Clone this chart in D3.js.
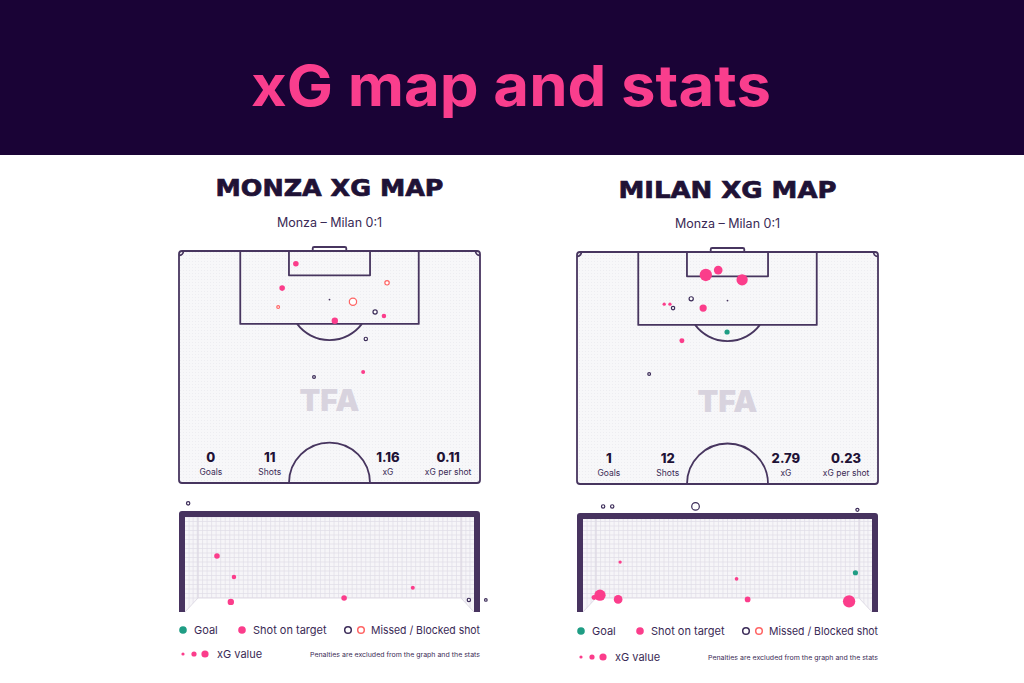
<!DOCTYPE html>
<html><head><meta charset="utf-8">
<script src="https://cdn.jsdelivr.net/npm/d3@7"></script>
<style>html,body{margin:0;padding:0;background:#fff;}svg{display:block;font-family:Inter,"Noto Sans",sans-serif;}</style>
</head><body>
<svg id="c" width="1024" height="683"></svg>
<script>
// ---------- DATA ----------
const teams = ["MONZA XG MAP", "MILAN XG MAP"];
const matchLabel = "Monza – Milan 0:1";
const statLabels = ["Goals", "Shots", "xG", "xG per shot"];
const monzaStats = ["0", "11", "1.16", "0.11"];
const milanStats = ["1", "12", "2.79", "0.23"];

// shots on pitch: x across pitch (m, 0-68), y distance from goal line (m)
const monzaShotX   = [26.4, 23.3, 47.0, 22.4, 39.3, 44.3, 46.3, 35.2, 42.2, 41.6, 30.5];
const monzaShotY   = [2.9, 8.4, 7.2, 12.7, 11.5, 13.8, 14.7, 15.8, 19.9, 27.4, 28.5];
const monzaShotXG  = [0.11, 0.11, 0.11, 0.04, 0.33, 0.10, 0.06, 0.16, 0.06, 0.04, 0.04];
const monzaShotType= ["on","on","blocked","blocked","blocked","missed","on","on","missed","on","missed"];

const milanShotX   = [29.1, 31.9, 37.3, 19.7, 21.0, 25.8, 21.7, 28.5, 33.9, 23.7, 16.3, 29.1];
const milanShotY   = [5.2, 4.1, 6.3, 11.8, 11.8, 10.6, 12.7, 12.7, 18.1, 20.1, 27.6, 5.3];
const milanShotXG  = [0.80, 0.35, 0.65, 0.02, 0.02, 0.10, 0.06, 0.22, 0.09, 0.08, 0.04, 0.36];
const milanShotType= ["on","on","on","on","on","missed","missed","on","goal","on","missed","missed"];

// shots in goal mouth: x across goal (m, 0-7.32), height (m, 0-2.44)
const monzaGoalX   = [0.08, 0.81, 1.24, 1.16, 4.03, 5.77, 7.19, 7.62];
const monzaGoalY   = [2.79, 1.44, 0.90, 0.26, 0.36, 0.62, 0.31, 0.31];
const monzaGoalXG  = [0.06, 0.11, 0.06, 0.16, 0.11, 0.04, 0.06, 0.03];
const monzaGoalType= ["missed","on","on","on","on","on","missed","missed"];

const milanGoalX   = [0.51, 0.74, 2.85, 6.95, 0.94, 0.43, 0.28, 0.89, 3.89, 4.17, 6.74, 6.90];
const milanGoalY   = [2.77, 2.77, 2.77, 2.68, 1.31, 0.44, 0.38, 0.33, 0.87, 0.33, 0.28, 1.03];
const milanGoalXG  = [0.06, 0.06, 0.36, 0.05, 0.02, 0.65, 0.08, 0.35, 0.03, 0.12, 0.80, 0.09];
const milanGoalType= ["missed","missed","missed","missed","on","on","on","on","on","on","on","goal"];

// ---------- STYLE ----------
const C = {
  header:"#1a0336", pink:"#f93e8d", line:"#47355f", dark:"#1f1236", text:"#3a2a55",
  goal:"#1f9d84", on:"#fb3d8b", missed:"#3b2b58", blocked:"#ff6464", wm:"#d8d3de",
  pitch:"#f7f7f9", net:"#e0dde7"
};

const svg = d3.select("#c");
const defs = svg.append("defs");
const pat = defs.append("pattern").attr("id","dots").attr("width",3).attr("height",3).attr("patternUnits","userSpaceOnUse");
pat.append("rect").attr("width",3).attr("height",3).attr("fill",C.pitch);
pat.append("rect").attr("width",1).attr("height",1).attr("fill","#ededf1");

// header
svg.append("rect").attr("x",0).attr("y",0).attr("width",1024).attr("height",155).attr("fill",C.header);
svg.append("text").attr("x",511).attr("y",106).attr("text-anchor","middle")
  .attr("font-size",57).attr("font-weight",700).attr("fill",C.pink)
  .attr("textLength",520).attr("lengthAdjust","spacingAndGlyphs").text("xG map and stats");

const rScale = d3.scaleSqrt().domain([0,1]).range([0.8,6.8]);

const panels = [
  {x0:179, y0:251, titleY:196, subY:227, goalTop:511, legY:[630,654], name:teams[0], stats:monzaStats,
   sx:monzaShotX, sy:monzaShotY, sxg:monzaShotXG, st:monzaShotType,
   gx:monzaGoalX, gy:monzaGoalY, gxg:monzaGoalXG, gt:monzaGoalType},
  {x0:577, y0:252, titleY:198, subY:228, goalTop:513, legY:[631,657], name:teams[1], stats:milanStats,
   sx:milanShotX, sy:milanShotY, sxg:milanShotXG, st:milanShotType,
   gx:milanGoalX, gy:milanGoalY, gxg:milanGoalXG, gt:milanGoalType}
];

function drawShots(g, xs, ys, xgs, types, fx, fy) {
  const data = xs.map((d,i)=>({x:d, y:ys[i], xg:xgs[i], t:types[i]}));
  data.sort((a,b)=> (a.t==="missed"||a.t==="blocked" ? 0:1) - (b.t==="missed"||b.t==="blocked" ? 0:1));
  g.selectAll(null).data(data).enter().append("circle")
    .attr("cx",d=>fx(d.x)).attr("cy",d=>fy(d.y))
    .attr("r",d=> (d.t==="on"||d.t==="goal") ? rScale(d.xg) : Math.max(1.3, rScale(d.xg)-0.6))
    .attr("fill",d=> d.t==="on"?C.on : d.t==="goal"?C.goal : "#fff")
    .attr("stroke",d=> d.t==="missed"?C.missed : d.t==="blocked"?C.blocked : "none")
    .attr("stroke-width",1.2);
}

panels.forEach(p=>{
  const W = 301, H = 232;
  const x = d3.scaleLinear().domain([0,68]).range([p.x0, p.x0+W]);
  const y = d3.scaleLinear().domain([0,52.5]).range([p.y0, p.y0+H]);
  const cx = x(34);
  const g = svg.append("g");

  // titles
  g.append("text").attr("x",cx).attr("y",p.titleY).attr("text-anchor","middle")
    .attr("font-family","'DejaVu Sans',sans-serif").attr("font-weight",700).attr("font-size",23)
    .attr("fill",C.dark).attr("stroke",C.dark).attr("stroke-width",0.7)
    .attr("textLength", p.name.startsWith("MONZA")?228:218).attr("lengthAdjust","spacingAndGlyphs").text(p.name);
  g.append("text").attr("x",cx).attr("y",p.subY).attr("text-anchor","middle")
    .attr("font-size",12.5).attr("fill",C.text).text(matchLabel);

  // pitch background
  const ls = {stroke:C.line, "stroke-width":1.8, fill:"none"};
  const ap = (sel)=>{Object.entries(ls).forEach(([k,v])=>sel.attr(k,v)); return sel;};
  g.append("rect").attr("x",x(0)).attr("y",y(0)).attr("width",W).attr("height",H).attr("rx",3).attr("fill","url(#dots)");

  // watermark
  g.append("text").attr("x",cx).attr("y",y(36.1)).attr("text-anchor","middle").attr("font-size",30)
    .attr("font-weight",900).attr("fill",C.wm).attr("textLength",60).attr("lengthAdjust","spacingAndGlyphs").text("TFA");

  // goal in pitch
  ap(g.append("rect").attr("x",x(30.2)).attr("y",y(-0.9)).attr("width",x(37.8)-x(30.2)).attr("height",y(0)-y(-0.9)).attr("rx",1.5)).attr("fill","#fff");
  // outline
  g.append("rect").attr("x",x(0)).attr("y",y(0)).attr("width",W).attr("height",H).attr("rx",3)
    .attr("fill","none").attr("stroke",C.line).attr("stroke-width",1.8);
  // penalty box
  ap(g.append("path").attr("d",`M${x(13.84)},${y(0)}V${y(16.5)}H${x(54.16)}V${y(0)}`)).attr("stroke-linejoin","round");
  // six-yard box
  ap(g.append("path").attr("d",`M${x(24.84)},${y(0)}V${y(5.5)}H${x(43.16)}V${y(0)}`)).attr("stroke-linejoin","round");
  // penalty spot
  g.append("circle").attr("cx",cx).attr("cy",y(11)).attr("r",0.9).attr("fill",C.line);
  // penalty arc
  const rr = x(9.15)-x(0);
  const dy = y(16.5)-y(11);
  const half = Math.sqrt(rr*rr-dy*dy);
  ap(g.append("path").attr("d",`M${cx-half},${y(16.5)}A${rr},${rr} 0 0 0 ${cx+half},${y(16.5)}`));
  // centre circle (half)
  ap(g.append("path").attr("d",`M${cx-rr},${y(52.5)}A${rr},${rr} 0 0 1 ${cx+rr},${y(52.5)}`));
  // corner arcs
  const cr = x(1)-x(0);
  ap(g.append("path").attr("d",`M${x(0)},${y(0)+cr}A${cr},${cr} 0 0 0 ${x(0)+cr},${y(0)}`));
  ap(g.append("path").attr("d",`M${x(68)-cr},${y(0)}A${cr},${cr} 0 0 0 ${x(68)},${y(0)+cr}`));

  // stats
  const statX = [7.2, 20.5, 47.2, 60.8];
  statX.forEach((sx,i)=>{
    g.append("text").attr("x",x(sx)).attr("y",y(47.75)).attr("text-anchor","middle")
      .attr("font-size",13).attr("font-weight",800).attr("fill",C.dark).text(p.stats[i]);
    g.append("text").attr("x",x(sx)).attr("y",y(50.7)).attr("text-anchor","middle")
      .attr("font-size",8.5).attr("fill",C.text).text(statLabels[i]);
  });

  drawShots(g, p.sx, p.sy, p.sxg, p.st, x, y);

  // ---------- goal view ----------
  const gBottom = 612;
  const gxS = d3.scaleLinear().domain([0,7.32]).range([p.x0+6, p.x0+W-6]);
  const gyS = d3.scaleLinear().domain([0,2.44]).range([gBottom, p.goalTop+6]);
  const gg = svg.append("g");
  const inL = gxS(0), inR = gxS(7.32), inT = gyS(2.44);
  const backL = inL+13, backR = inR-13, backB = gBottom-14;
  const clipId = "netclip"+p.x0;
  defs.append("clipPath").attr("id",clipId).append("path")
    .attr("d",`M${inL},${inT}H${inR}V${gBottom}L${backR},${backB}H${backL}L${inL},${gBottom}Z`);
  const net = gg.append("g").attr("clip-path",`url(#${clipId})`);
  net.append("rect").attr("x",inL).attr("y",inT).attr("width",inR-inL).attr("height",gBottom-inT).attr("fill","#f6f5f8");
  for (let vx = backL; vx <= backR+0.1; vx += (backR-backL)/58) {
    net.append("line").attr("x1",vx).attr("x2",vx).attr("y1",inT).attr("y2",backB).attr("stroke",C.net).attr("stroke-width",0.7);
  }
  for (let hy = backB; hy >= inT; hy -= 4.5) {
    net.append("line").attr("x1",inL).attr("x2",inR).attr("y1",hy).attr("y2",hy).attr("stroke",C.net).attr("stroke-width",0.7);
  }
  for (let k=1;k<=3;k++){
    const fx1 = inL + (backL-inL)*k/3.2, fx2 = inR - (inR-backR)*k/3.2;
    net.append("line").attr("x1",fx1).attr("x2",fx1).attr("y1",inT).attr("y2",gBottom).attr("stroke",C.net).attr("stroke-width",0.7);
    net.append("line").attr("x1",fx2).attr("x2",fx2).attr("y1",inT).attr("y2",gBottom).attr("stroke",C.net).attr("stroke-width",0.7);
  }
  gg.append("path").attr("d",`M${inL},${gBottom}L${backL},${backB}H${backR}L${inR},${gBottom}`)
    .attr("fill","none").attr("stroke","#dcd8e3").attr("stroke-width",0.9);
  gg.append("line").attr("x1",backL).attr("x2",backL).attr("y1",inT).attr("y2",backB).attr("stroke","#dcd8e3").attr("stroke-width",0.9);
  gg.append("line").attr("x1",backR).attr("x2",backR).attr("y1",inT).attr("y2",backB).attr("stroke","#dcd8e3").attr("stroke-width",0.9);
  // frame
  gg.append("path").attr("d",`M${p.x0+3},${gBottom}V${p.goalTop+3}H${p.x0+W-3}V${gBottom}`)
    .attr("fill","none").attr("stroke","#47335f").attr("stroke-width",6).attr("stroke-linejoin","round");

  drawShots(gg, p.gx, p.gy, p.gxg, p.gt, gxS, gyS);

  // ---------- legend ----------
  const lg = svg.append("g");
  const r1 = p.legY[0], r2 = p.legY[1], lx = p.x0;
  lg.append("circle").attr("cx",lx+4).attr("cy",r1).attr("r",3.8).attr("fill",C.goal);
  lg.append("text").attr("x",lx+15).attr("y",r1+3.8).attr("font-size",11).attr("fill",C.text).text("Goal");
  lg.append("circle").attr("cx",lx+63).attr("cy",r1).attr("r",3.8).attr("fill",C.on);
  lg.append("text").attr("x",lx+74).attr("y",r1+3.8).attr("font-size",11).attr("fill",C.text).text("Shot on target");
  lg.append("circle").attr("cx",lx+169).attr("cy",r1).attr("r",3.3).attr("fill","#fff").attr("stroke",C.missed).attr("stroke-width",1.5);
  lg.append("circle").attr("cx",lx+182).attr("cy",r1).attr("r",3.3).attr("fill","#fff").attr("stroke",C.blocked).attr("stroke-width",1.5);
  lg.append("text").attr("x",lx+192).attr("y",r1+3.8).attr("font-size",11).attr("fill",C.text)
    .attr("textLength",109).attr("lengthAdjust","spacingAndGlyphs").text("Missed / Blocked shot");
  [1.6,2.6,3.6].forEach((rv,i)=>{
    lg.append("circle").attr("cx",lx+4+i*11).attr("cy",r2).attr("r",rv).attr("fill",C.on);
  });
  lg.append("text").attr("x",lx+38).attr("y",r2+3.8).attr("font-size",11).attr("fill",C.text).text("xG value");
  lg.append("text").attr("x",lx+W).attr("y",r2+2.5).attr("text-anchor","end").attr("font-size",6.6).attr("fill",C.text)
    .attr("textLength",170).attr("lengthAdjust","spacingAndGlyphs").text("Penalties are excluded from the graph and the stats");
});
</script>
</body></html>
